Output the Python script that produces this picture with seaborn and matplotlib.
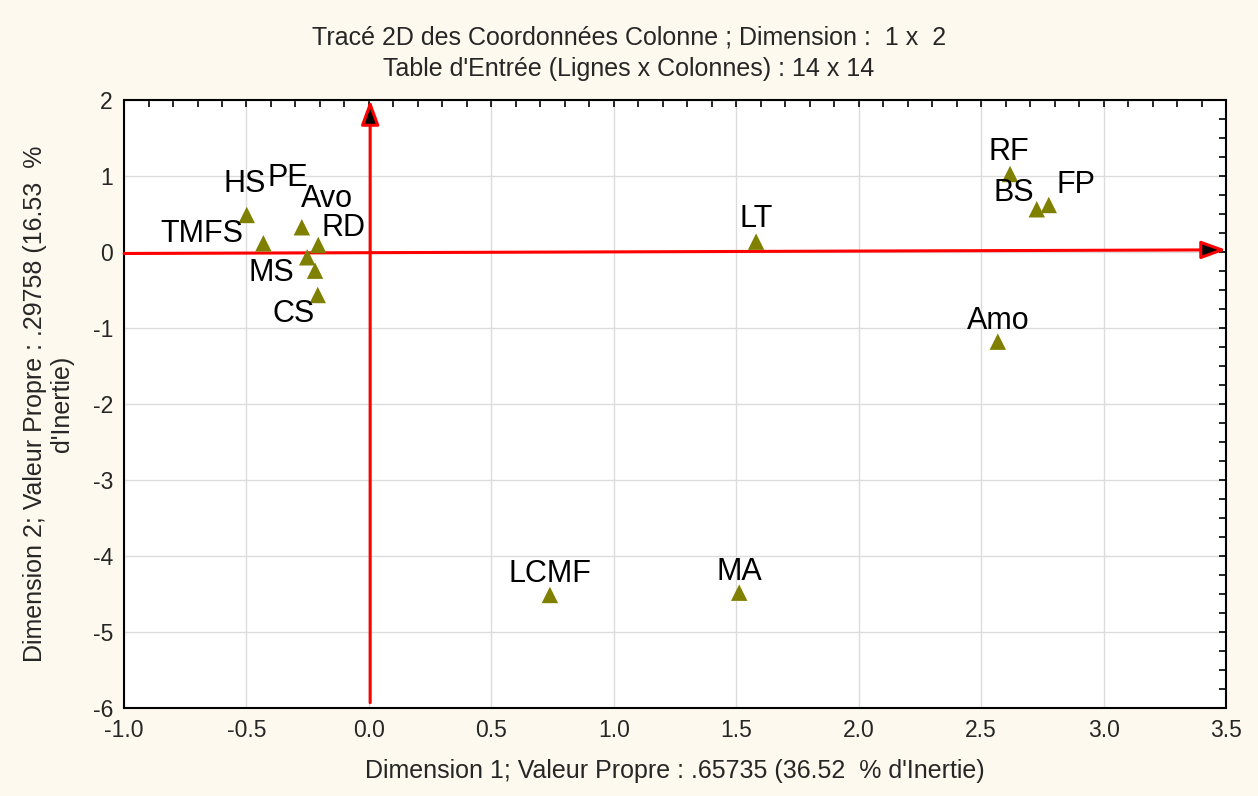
import numpy as np
import pandas as pd
import seaborn as sns
from matplotlib import pyplot as plt
from matplotlib.ticker import MultipleLocator

# column coordinates (dimension 1 x dimension 2)
labels = ['HS', 'TMFS', 'PE', 'Avo', 'MS', 'RD', 'CS',
          'LT', 'RF', 'BS', 'FP', 'Amo', 'LCMF', 'MA']
dim1 = [-0.499, -0.431, -0.274, -0.207, -0.252, -0.220, -0.209,
        1.581, 2.618, 2.727, 2.776, 2.568, 0.739, 1.512]
dim2 = [0.487, 0.114, 0.325, 0.092, -0.070, -0.246, -0.566,
        0.136, 1.026, 0.562, 0.618, -1.180, -4.513, -4.483]

# red reference axes drawn on the plot
axis1_x = [-1.0, 3.5]
axis1_y = [-0.02, 0.028]
axis2_x = [0.005, 0.005]
axis2_y = [-5.93, 2.0]

# label offsets in pixels (dx, dy up)
label_offsets = {
    'HS': (-2, 31), 'TMFS': (-62, 9), 'PE': (-14, 49), 'Avo': (9, 46),
    'MS': (-36, -16), 'RD': (28, 43), 'CS': (-24, -19),
    'LT': (0, 23), 'RF': (-1, 22), 'BS': (-23, 16), 'FP': (27, 20),
    'Amo': (0, 21), 'LCMF': (0, 21), 'MA': (0, 21),
}

df = pd.DataFrame({'label': labels, 'dim1': dim1, 'dim2': dim2})

sns.set_style('white')
plt.rcParams['font.family'] = ['Liberation Sans', 'DejaVu Sans']

fig = plt.figure(figsize=(12.58, 7.96), dpi=100, facecolor='#fdf9ee')
ax = fig.add_axes([0.0986, 0.1106, 0.8760, 0.7638])
ax.set_facecolor('white')

ax.grid(True, which='major', color='#dcdcdc', lw=1)
ax.set_axisbelow(True)

sns.scatterplot(data=df, x='dim1', y='dim2', marker='^', s=140,
                color='#808000', edgecolor='none', ax=ax, zorder=4)

for lab, x, y in zip(labels, dim1, dim2):
    dx, dy = label_offsets[lab]
    ax.annotate(lab, (x, y), xytext=(dx, dy), textcoords='offset pixels',
                ha='center', va='center', fontsize=22, color='black', zorder=5)

# red axes with arrows
arrow = dict(arrowstyle='-|>,head_length=0.6,head_width=0.22', ec='red', fc='black',
             lw=2.2, shrinkA=0, shrinkB=0, mutation_scale=25)
ax.annotate('', xy=(axis1_x[1], axis1_y[1]), xytext=(axis1_x[0], axis1_y[0]),
            arrowprops=arrow, zorder=3)
ax.annotate('', xy=(axis2_x[1], axis2_y[1]), xytext=(axis2_x[0], axis2_y[0]),
            arrowprops=arrow, zorder=3)

ax.set_xlim(-1.0, 3.5)
ax.set_ylim(-6, 2)
ax.xaxis.set_major_locator(MultipleLocator(0.5))
ax.xaxis.set_minor_locator(MultipleLocator(0.1))
ax.yaxis.set_major_locator(MultipleLocator(1))
ax.yaxis.set_minor_locator(MultipleLocator(0.25))
ax.xaxis.set_major_formatter(plt.FuncFormatter(lambda v, p: '%.1f' % v))
ax.yaxis.set_major_formatter(plt.FuncFormatter(lambda v, p: '%d' % v))
ax.tick_params(which='both', direction='in', top=True, right=True,
               length=5, width=1.2, color='black', labelsize=16.5, pad=8)
for sp in ax.spines.values():
    sp.set_visible(True)
    sp.set_color('black')
    sp.set_linewidth(1.5)

ax.set_xlabel("Dimension 1; Valeur Propre : .65735 (36.52  % d'Inertie)",
              fontsize=18, labelpad=12)
ax.set_ylabel("Dimension 2; Valeur Propre : .29758 (16.53  %\nd'Inertie)",
              fontsize=18, labelpad=13, linespacing=1.2)

fig.text(0.5, 1 - 38 / 796, "Tracé 2D des Coordonnées Colonne ; Dimension :  1 x  2",
         ha='center', va='center', fontsize=18)
fig.text(0.5, 1 - 69 / 796, "Table d'Entrée (Lignes x Colonnes) : 14 x 14",
         ha='center', va='center', fontsize=18)

fig.savefig('out.png', dpi=100, facecolor=fig.get_facecolor())
